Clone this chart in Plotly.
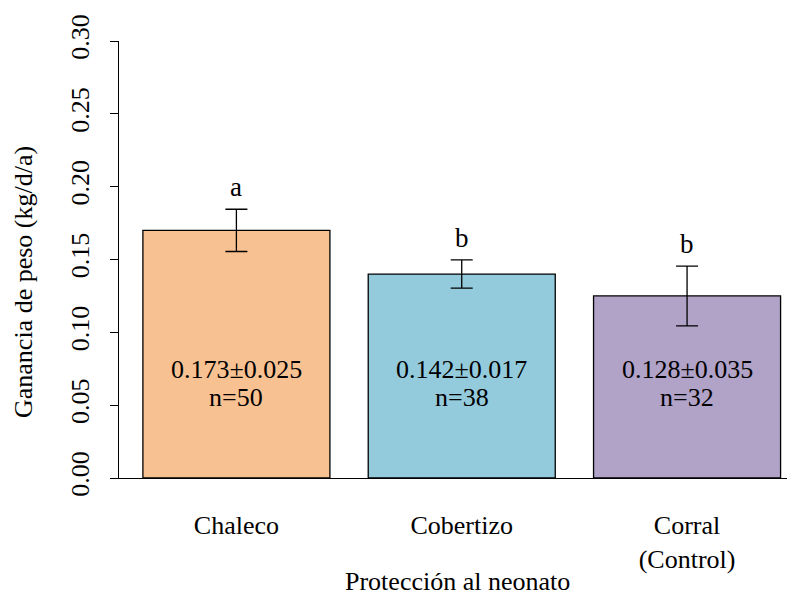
import plotly.graph_objects as go

categories = ["Chaleco", "Cobertizo", "Corral<br>(Control)"]
means = [0.170, 0.140, 0.125]
errors = [0.0145, 0.0097, 0.0205]
letters = ["a", "b", "b"]
summary_text = ["0.173±0.025", "0.142±0.017", "0.128±0.035"]
n_text = ["n=50", "n=38", "n=32"]
colors = ["#F8C192", "#93CBDC", "#B1A2C8"]
y_ticks = [0.00, 0.05, 0.10, 0.15, 0.20, 0.25, 0.30]

FONT = "Liberation Serif, Times New Roman, serif"
TEXT_Y = 0.065

fig = go.Figure()
fig.add_trace(go.Bar(
    x=categories, y=means, width=0.83,
    marker=dict(color=colors, line=dict(color="black", width=1.3)),
    error_y=dict(type="data", array=errors, visible=True, color="black",
                 thickness=1.3, width=11),
    showlegend=False, hoverinfo="skip",
))

annotations = []
for c, m, e, l in zip(categories, means, errors, letters):
    annotations.append(dict(x=c, y=m + e, xref="x", yref="y", text=l,
                            showarrow=False, yanchor="bottom", yshift=5,
                            font=dict(family=FONT, size=27, color="black")))
for c, s, n in zip(categories, summary_text, n_text):
    annotations.append(dict(x=c, y=TEXT_Y, xref="x", yref="y",
                            text=s, showarrow=False, yanchor="middle",
                            yshift=14,
                            font=dict(family=FONT, size=26, color="black")))
    annotations.append(dict(x=c, y=TEXT_Y, xref="x", yref="y",
                            text=n, showarrow=False, yanchor="middle",
                            yshift=-14,
                            font=dict(family=FONT, size=26, color="black")))
annotations.append(dict(x=0.5, y=-0.237, xref="paper", yref="paper",
                        text="Protección al neonato", showarrow=False,
                        yanchor="middle",
                        font=dict(family=FONT, size=26, color="black")))
annotations.append(dict(x=-0.142, y=0.4485, xref="paper", yref="paper",
                        text="Ganancia de peso (kg/d/a)", showarrow=False,
                        textangle=-90, xanchor="center", yanchor="middle",
                        font=dict(family=FONT, size=26, color="black")))

fig.update_layout(
    width=787, height=589,
    margin=dict(l=111, r=0, t=33, b=119, autoexpand=False),
    plot_bgcolor="white", paper_bgcolor="white",
    font=dict(family=FONT, color="black"),
    annotations=annotations,
    xaxis=dict(range=[-0.521, 2.479], showline=True, linecolor="black",
               linewidth=1.3, ticks="", showgrid=False, zeroline=False,
               automargin=False,
               ticklabelstandoff=24, tickfont=dict(family=FONT, size=26)),
    yaxis=dict(range=[0, 0.30], tickvals=y_ticks,
               ticktext=[f"{v:.2f}" for v in y_ticks], tickangle=-90,
               ticks="outside", ticklen=8, tickwidth=1.3, tickcolor="black",
               showline=True, linecolor="black", linewidth=1.3,
               showgrid=False, zeroline=False, ticklabelstandoff=10,
               automargin=False,
               tickfont=dict(family=FONT, size=26)),
)

fig.write_html("out.html")
